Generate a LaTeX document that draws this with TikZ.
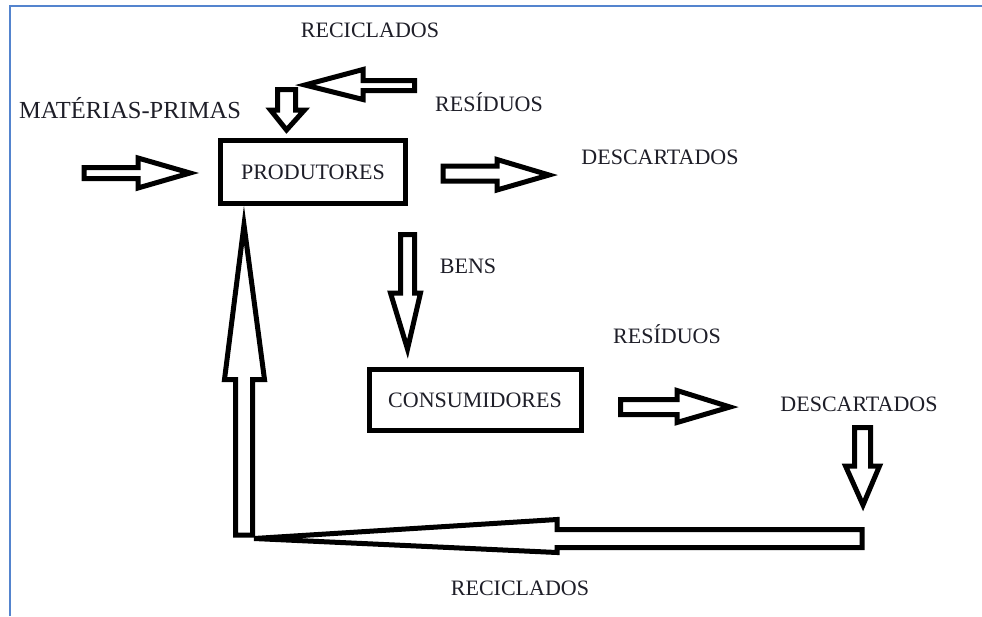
\documentclass[tikz,border=0pt]{standalone}
\usepackage{fontspec}
\setmainfont{Liberation Serif}
\definecolor{framecol}{RGB}{84,132,206}
\definecolor{txtcol}{RGB}{30,30,40}
\begin{document}
\begin{tikzpicture}[x=1pt,y=-1pt,
  lbl/.style={inner sep=0pt, text=txtcol, font=\fontsize{22}{26}\selectfont},
  boxnode/.style={draw=black, line width=5pt, inner sep=0pt, text=txtcol, font=\fontsize{22}{26}\selectfont},
  blockarrow/.style={draw=black, line width=5pt, fill=white, line join=miter}]
\useasboundingbox (0,0) rectangle (982,616);
\fill[white] (0,0) rectangle (982,616);
% frame
\draw[framecol, line width=2.4pt] (10,616) -- (10,6) -- (982,6);

% boxes
\node[boxnode, minimum width=185pt, minimum height=63pt] (prod) at (313,172) {PRODUTORES};
\node[boxnode, minimum width=212pt, minimum height=61.5pt] (cons) at (475,400) {CONSUMIDORES};

% labels
\node[lbl] (recTop) at (370,30) {RECICLADOS};
\node[lbl, font=\fontsize{24.5}{26}\selectfont] (mat) at (130,108) {MATÉRIAS-PRIMAS};
\node[lbl] (resTop) at (489,102) {RESÍDUOS};
\node[lbl] (descTop) at (660,157) {DESCARTADOS};
\node[lbl] (bens) at (468,266) {BENS};
\node[lbl] (resMid) at (667,334) {RESÍDUOS};
\node[lbl] (descR) at (859,404) {DESCARTADOS};
\node[lbl] (recBot) at (520,588) {RECICLADOS};

% matérias-primas -> produtores
\draw[blockarrow] (84,167.5) -- (138,167.5) -- (138,158) -- (190,173) -- (138,188) -- (138,178.5) -- (84,178.5) -- cycle;
% produtores -> descartados
\draw[blockarrow] (443,166) -- (497,166) -- (497,159.5) -- (549,175) -- (497,190) -- (497,181) -- (443,181) -- cycle;
% resíduos -> reciclados (left)
\draw[blockarrow] (414.5,80.5) -- (363,80.5) -- (363,69.5) -- (305,85) -- (363,99.5) -- (363,90.5) -- (414.5,90.5) -- cycle;
% down into produtores
\draw[blockarrow] (277.5,89.5) -- (295.5,89.5) -- (295.5,110) -- (304.5,110) -- (286.5,130) -- (270.5,110) -- (277.5,110) -- cycle;
% bens
\draw[blockarrow] (400.5,234.5) -- (414.5,234.5) -- (414.5,293) -- (420.5,293) -- (407.5,349) -- (390.5,293) -- (400.5,293) -- cycle;
% consumidores -> descartados
\draw[blockarrow] (620.5,399.5) -- (677,399.5) -- (677,390.5) -- (730,407) -- (677,422.5) -- (677,414.5) -- (620.5,414.5) -- cycle;
% descartados down
\draw[blockarrow] (854.5,427.5) -- (870.5,427.5) -- (870.5,466) -- (879.5,466) -- (863,505) -- (845.5,466) -- (854.5,466) -- cycle;
% big up arrow
\draw[blockarrow] (235.5,535) -- (235.5,379.5) -- (224.5,379.5) -- (244,225) -- (264.5,379.5) -- (252.5,379.5) -- (252.5,535) -- cycle;
% big left arrow
\draw[blockarrow] (862,529.5) -- (557,529.5) -- (557,519.5) -- (254,538.5) -- (557,552.5) -- (557,547.5) -- (862,547.5) -- cycle;
\end{tikzpicture}
\end{document}
